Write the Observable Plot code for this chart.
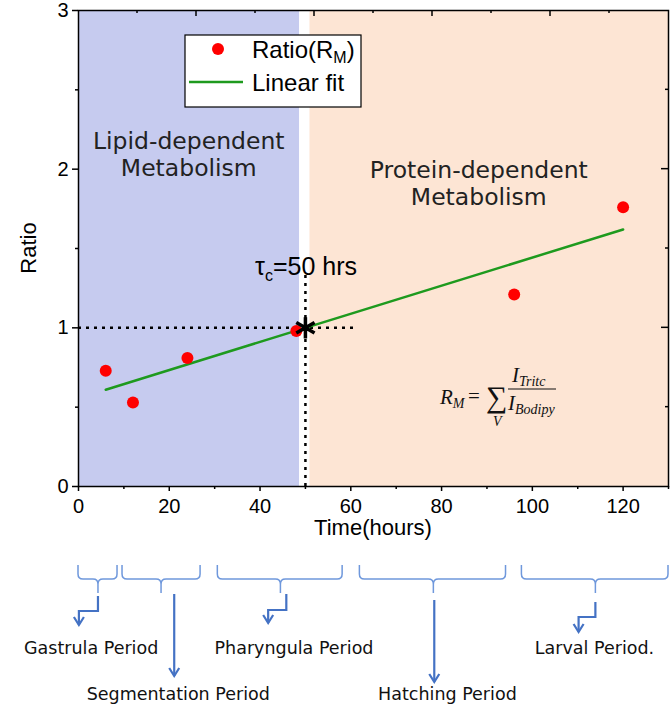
<!DOCTYPE html>
<html><head><meta charset="utf-8">
<script src="https://cdn.jsdelivr.net/npm/d3@7"></script>
<script src="https://cdn.jsdelivr.net/npm/@observablehq/plot@0.6"></script>
<style>body{margin:0;background:#fff} #chart svg{display:block}</style>
</head><body><div id="chart"></div>
<script>
// ---- data ----
const times = [6, 12, 24, 48, 96, 120];
const ratios = [0.73, 0.53, 0.81, 0.98, 1.21, 1.76];
const fitTimes = [6, 120];
const fitRatios = [0.61, 1.62];
const regionNames = ["Lipid-dependent\nMetabolism", "Protein-dependent\nMetabolism"];
const regionStart = [0, 51];
const regionEnd = [48.7, 130];
const regionLabelX = [24.3, 88.2];
const tauTime = 50, tauRatio = 1;
const tauLineEnd = 61, tauLineTop = 1.36;
const xTicks = [0, 20, 40, 60, 80, 100, 120];
const xMinor = [10, 30, 50, 70, 90, 110, 130];
const yTicks = [0, 1, 2, 3];
const yMinor = [0.5, 1.5, 2.5];
const topMajor = [26, 52, 78, 104];
const topMinor = [13, 39, 65, 91, 117];
const periodNames = ["Gastrula Period", "Segmentation Period", "Pharyngula Period", "Hatching Period", "Larval Period."];
const periodStart = [0, 9.7, 30.7, 62, 97.7];
const periodEnd = [8.6, 26.9, 58.2, 94.2, 130];
const periodTip = [4.4, 18.3, 44.6, 78.3, 114];
const arrowFrom = [4.4, 21.2, 45.9, 78.5, 114];
const arrowTo = [0.2, 21.2, 41.9, 78.5, 110.3];
const labelX = [2.9, 22.1, 47.6, 81.4, 113.8];
const labelRow = [0, 1, 0, 1, 0];

// ---- styles ----
const blue = "#c6cbef", orange = "#fde5d4";
const sans = "'Liberation Sans', Arial, sans-serif";
const gothic = "'DejaVu Sans', sans-serif";

const pts = times.map((t, i) => ({t, r: ratios[i]}));
const fit = fitTimes.map((t, i) => ({t, r: fitRatios[i]}));
const regions = regionNames.map((n, i) => ({n, x1: regionStart[i], x2: regionEnd[i], lx: regionLabelX[i]}));

const chart = Plot.plot({
  width: 670, height: 704,
  marginLeft: 78, marginRight: 2, marginTop: 10, marginBottom: 218,
  style: {fontFamily: sans, background: "white", overflow: "visible", color: "black"},
  x: {domain: [0, 130]},
  y: {domain: [0, 3]},
  marks: [
    Plot.rect([regions[0]], {x1: "x1", x2: "x2", y1: 0, y2: 3, fill: blue}),
    Plot.rect([regions[1]], {x1: "x1", x2: "x2", y1: 0, y2: 3, fill: orange}),
    Plot.text([regions[0]], {x: "lx", frameAnchor: "top", dy: 119, text: "n", fontSize: 23.5, fontFamily: gothic, fill: "#222", lineHeight: 1.15}),
    Plot.text([regions[1]], {x: "lx", frameAnchor: "top", dy: 148, text: "n", fontSize: 23.5, fontFamily: gothic, fill: "#222", lineHeight: 1.15}),
    Plot.ruleY([tauRatio], {x1: 0, x2: tauLineEnd, stroke: "black", strokeWidth: 2.5, strokeDasharray: "3,5"}),
    Plot.ruleX([tauTime], {y1: 0, y2: tauLineTop, stroke: "black", strokeWidth: 2.5, strokeDasharray: "3,5"}),
    Plot.line(fit, {x: "t", y: "r", stroke: "#1e9a1e", strokeWidth: 2.5}),
    Plot.dot(pts, {x: "t", y: "r", r: 6, fill: "#ff0000"}),
    Plot.dot([{t: tauTime, r: tauRatio}], {x: "t", y: "r", symbol: "asterisk", r: 10, stroke: "black", strokeWidth: 3.5}),
    Plot.frame({stroke: "black", strokeWidth: 1.5}),
    Plot.axisX(xTicks, {tickSize: 5, fontSize: 20, tickPadding: 7, label: null, strokeWidth: 1.5, tickFormat: d => d}),
    Plot.axisX(xMinor, {tickSize: 3, tickFormat: () => "", label: null, strokeWidth: 1.5}),
    Plot.axisY(yTicks, {tickSize: 6, fontSize: 20, tickPadding: 4, label: null, strokeWidth: 1.5, tickFormat: d => d}),
    Plot.axisY(yMinor, {tickSize: 3, tickFormat: () => "", label: null, strokeWidth: 1.5})
  ]
});

const sx = chart.scale("x"), sy = chart.scale("y");
const X = d3.scaleLinear(sx.domain, sx.range);
const Y = d3.scaleLinear(sy.domain, sy.range);
const svg = d3.select(chart);
const fTop = Y(3), fBot = Y(0), fLeft = X(0), fRight = X(130);

// axis titles
svg.append("text").attr("x", (fLeft + fRight) / 2).attr("y", fBot + 49).attr("text-anchor", "middle")
  .attr("font-family", sans).attr("font-size", 22).text("Time(hours)");
svg.append("text").attr("transform", `translate(36,${(fTop + fBot) / 2}) rotate(-90)`).attr("text-anchor", "middle")
  .attr("font-family", sans).attr("font-size", 22).text("Ratio");

// inner ticks on top and right edges
const g = svg.append("g").attr("stroke", "black").attr("stroke-width", 1.5);
topMajor.forEach(v => g.append("line").attr("x1", X(v)).attr("x2", X(v)).attr("y1", fTop).attr("y2", fTop + 6));
topMinor.forEach(v => g.append("line").attr("x1", X(v)).attr("x2", X(v)).attr("y1", fTop).attr("y2", fTop + 3));
[1, 2].forEach(v => g.append("line").attr("x1", fRight).attr("x2", fRight - 7).attr("y1", Y(v)).attr("y2", Y(v)));
yMinor.forEach(v => g.append("line").attr("x1", fRight).attr("x2", fRight - 3).attr("y1", Y(v)).attr("y2", Y(v)));

// legend
const lg = svg.append("g").attr("font-family", sans).attr("font-size", 24).attr("text-anchor", "start");
lg.append("rect").attr("x", 185).attr("y", 35).attr("width", 176).attr("height", 72).attr("fill", "white").attr("stroke", "black").attr("stroke-width", 1.2);
lg.append("circle").attr("cx", 218).attr("cy", 49).attr("r", 6).attr("fill", "#ff0000");
lg.append("line").attr("x1", 189).attr("x2", 243).attr("y1", 82).attr("y2", 82).attr("stroke", "#1e9a1e").attr("stroke-width", 2.5);
const t1 = lg.append("text").attr("x", 252).attr("y", 58);
t1.append("tspan").text("Ratio(R");
t1.append("tspan").attr("font-size", 16).attr("dy", 5).text("M");
t1.append("tspan").attr("dy", -5).text(")");
lg.append("text").attr("x", 252).attr("y", 91).text("Linear fit");

// tau label
const tl = svg.append("text").attr("x", 255).attr("y", Y(tauLineTop) + 5).attr("text-anchor", "start")
  .attr("font-family", sans).attr("font-size", 25);
tl.append("tspan").text("τ");
tl.append("tspan").attr("font-size", 16).attr("dy", 6).text("c");
tl.append("tspan").attr("dy", -6).text("=50 hrs");

// formula
const serif = "'Liberation Serif', 'DejaVu Serif', serif";
const fg = svg.append("g").attr("font-family", serif).attr("font-style", "italic").attr("fill", "#111").attr("text-anchor", "start");
const r1 = fg.append("text").attr("x", 440).attr("y", 404).attr("font-size", 21);
r1.append("tspan").text("R");
r1.append("tspan").attr("font-size", 14).attr("dy", 4).text("M");
fg.append("text").attr("x", 468).attr("y", 403).attr("font-size", 21).attr("font-style", "normal").text("=");
fg.append("text").attr("x", 486).attr("y", 407).attr("font-size", 30).attr("font-style", "normal").text("∑");
fg.append("text").attr("x", 493).attr("y", 426).attr("font-size", 14).text("V");
const nu = fg.append("text").attr("x", 512).attr("y", 382).attr("font-size", 21);
nu.append("tspan").text("I");
nu.append("tspan").attr("font-size", 14).attr("dy", 4).text("Tritc");
fg.append("line").attr("x1", 508).attr("x2", 556).attr("y1", 389).attr("y2", 389).attr("stroke", "#111").attr("stroke-width", 1.2);
const de = fg.append("text").attr("x", 508).attr("y", 410).attr("font-size", 21);
de.append("tspan").text("I");
de.append("tspan").attr("font-size", 14).attr("dy", 4).text("Bodipy");

// braces, arrows, period labels
const braceTop = fBot + 79, braceMid = fBot + 93, braceTip = fBot + 107, rr = 5;
const ag = svg.append("g").attr("fill", "none");
periodNames.forEach((name, i) => {
  const a = X(periodStart[i]), b = X(periodEnd[i]), t = X(periodTip[i]);
  const d = `M${a},${braceTop} V${braceMid - rr} Q${a},${braceMid} ${a + rr},${braceMid} H${t - rr} Q${t},${braceMid} ${t},${braceMid + rr} V${braceTip}` +
            ` M${t},${braceMid + rr} Q${t},${braceMid} ${t + rr},${braceMid} H${b - rr} Q${b},${braceMid} ${b},${braceMid - rr} V${braceTop}`;
  ag.append("path").attr("d", d).attr("stroke", "#6f98dc").attr("stroke-width", 1.5);
});
const arrowStart = [110, 108, 108, 114, 116];
const arrowElbow = [125, null, 124, null, 131];
const arrowEnd = [139, 190, 137, 196, 146];
periodNames.forEach((name, i) => {
  const x0 = X(arrowFrom[i]), x1 = X(arrowTo[i]);
  const y0 = fBot + arrowStart[i], y1 = fBot + arrowEnd[i];
  let d = `M${x0},${y0}`;
  if (arrowElbow[i] != null) d += ` V${fBot + arrowElbow[i]} H${x1}`;
  d += ` V${y1}`;
  ag.append("path").attr("d", d).attr("stroke", "#4472c4").attr("stroke-width", 2.2);
  ag.append("path").attr("d", `M${x1 - 5},${y1 - 8} L${x1},${y1} L${x1 + 5},${y1 - 8}`).attr("stroke", "#4472c4").attr("stroke-width", 2.2);
  svg.append("text").attr("x", X(labelX[i])).attr("y", fBot + (labelRow[i] ? 214 : 168))
    .attr("text-anchor", "middle").attr("font-family", gothic).attr("font-size", 17.5).attr("fill", "#111").text(name);
});

document.getElementById("chart").appendChild(chart);
</script>
</body></html>
